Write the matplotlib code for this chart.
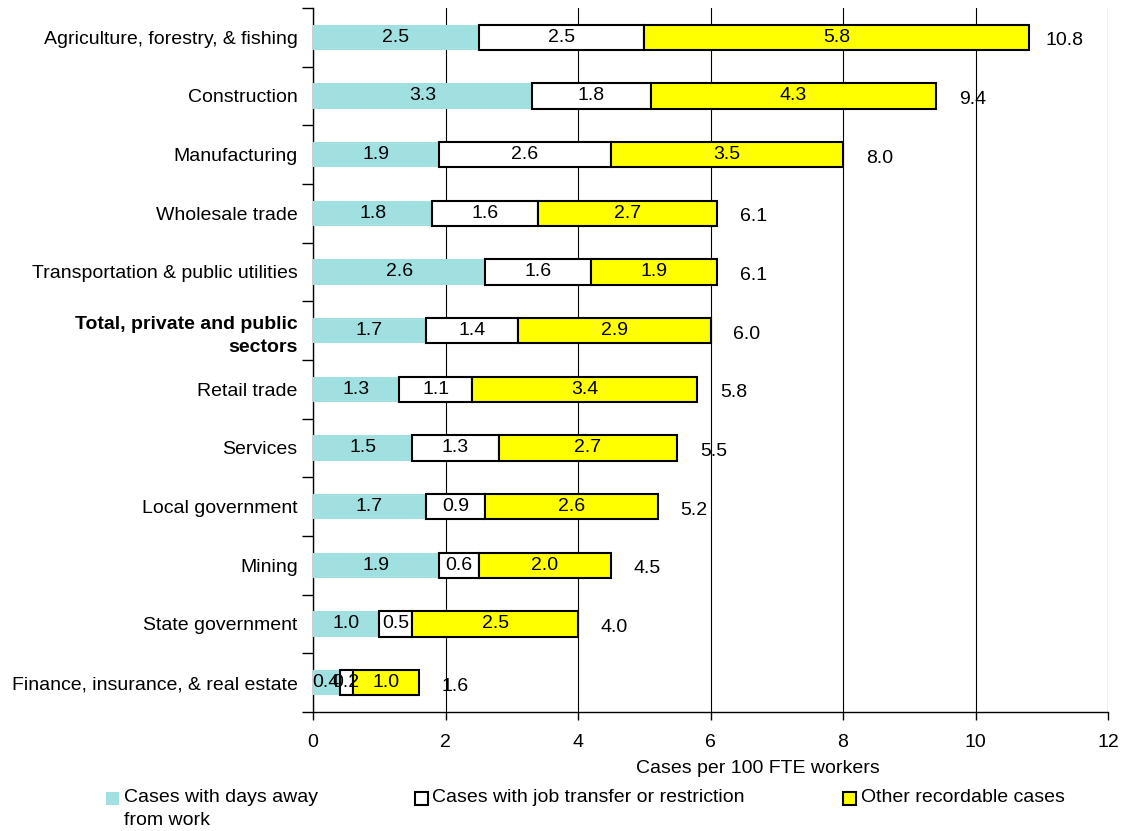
import matplotlib
matplotlib.use("Agg")
import matplotlib.pyplot as plt
import numpy as np
from matplotlib.patches import Rectangle

plt.rcParams['font.family'] = ['Liberation Sans', 'DejaVu Sans']

categories = [
    "Agriculture, forestry, & fishing",
    "Construction",
    "Manufacturing",
    "Wholesale trade",
    "Transportation & public utilities",
    "Total, private and public\nsectors",
    "Retail trade",
    "Services",
    "Local government",
    "Mining",
    "State government",
    "Finance, insurance, & real estate",
]
days_away = [2.5, 3.3, 1.9, 1.8, 2.6, 1.7, 1.3, 1.5, 1.7, 1.9, 1.0, 0.4]
job_transfer = [2.5, 1.8, 2.6, 1.6, 1.6, 1.4, 1.1, 1.3, 0.9, 0.6, 0.5, 0.2]
other = [5.8, 4.3, 3.5, 2.7, 1.9, 2.9, 3.4, 2.7, 2.6, 2.0, 2.5, 1.0]
totals = [10.8, 9.4, 8.0, 6.1, 6.1, 6.0, 5.8, 5.5, 5.2, 4.5, 4.0, 1.6]
x_ticks = [0, 2, 4, 6, 8, 10, 12]

series_names = ["Cases with days away\nfrom work",
                "Cases with job transfer or restriction",
                "Other recordable cases"]
colors = ["#A0E0E0", "#FFFFFF", "#FFFF00"]

W, H = 1123, 831
fig = plt.figure(figsize=(W / 100, H / 100), dpi=100)
ax = fig.add_axes([313/W, 1-712/H, 795/W, 704/H])

y = np.arange(len(categories))
h = 0.43
d = np.array(days_away)
j = np.array(job_transfer)
o = np.array(other)

ax.barh(y, d, height=h, color=colors[0], edgecolor='none', zorder=3)
ax.barh(y, j, left=d, height=h, color=colors[1], edgecolor='black', linewidth=1.5, zorder=3)
ax.barh(y, o, left=d + j, height=h, color=colors[2], edgecolor='black', linewidth=1.5, zorder=3)

fs = 14
for i in range(len(categories)):
    ax.text(d[i] / 2, y[i], f"{d[i]:.1f}", ha='center', va='center', fontsize=fs, zorder=4)
    ax.text(d[i] + j[i] / 2, y[i], f"{j[i]:.1f}", ha='center', va='center', fontsize=fs, zorder=4)
    ax.text(d[i] + j[i] + o[i] / 2, y[i], f"{o[i]:.1f}", ha='center', va='center', fontsize=fs, zorder=4)
    ax.text(totals[i] + 0.55, y[i] + 0.06, f"{totals[i]:.1f}", ha='center', va='center', fontsize=fs, zorder=4)

ax.set_xlim(0, 12)
ax.set_ylim(len(categories) - 0.5, -0.5)
ax.set_xticks(x_ticks)
ax.set_xticklabels([str(t) for t in x_ticks], fontsize=fs)
ax.tick_params(axis='x', direction='out', length=6, width=1, pad=10)

ax.set_yticks(y)
ax.set_yticklabels(categories, fontsize=fs)
ax.tick_params(axis='y', which='major', length=0, pad=11)
ax.set_yticks(np.arange(len(categories) + 1) - 0.5, minor=True)
ax.tick_params(axis='y', which='minor', direction='out', length=8, width=1)
for lbl in ax.get_yticklabels():
    if lbl.get_text().startswith("Total"):
        lbl.set_fontweight('bold')
        lbl.set_linespacing(1.45)

ax.grid(axis='x', color='black', linewidth=0.8, zorder=0)
ax.spines['top'].set_visible(False)
ax.spines['right'].set_visible(False)
for s in ['left', 'bottom']:
    ax.spines[s].set_linewidth(1)

ax.set_xlabel("Cases per 100 FTE workers", fontsize=fs)
ax.xaxis.set_label_coords(0.56, -0.068)

# Legend drawn manually (handles aligned with first text line)
leg_x = [106, 415, 843]
leg_text_x = [124, 432, 861]
edges = ['none', 'black', 'black']
for k in range(3):
    fig.patches.append(Rectangle((leg_x[k] / W, 1 - 805 / H), 13 / W, 13 / H,
                                 transform=fig.transFigure, facecolor=colors[k],
                                 edgecolor=edges[k], linewidth=1.5))
    fig.text(leg_text_x[k] / W, 1 - 789 / H, series_names[k], fontsize=fs,
             ha='left', va='top', linespacing=1.45)

fig.savefig("out.png", dpi=100)
